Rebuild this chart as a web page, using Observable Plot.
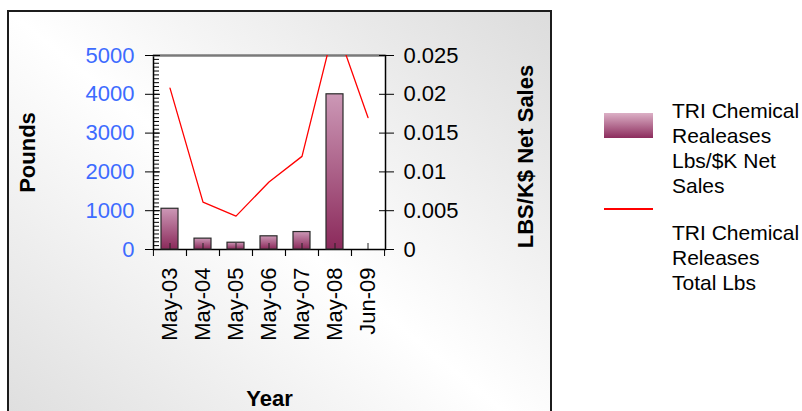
<!DOCTYPE html>
<html>
<head>
<meta charset="utf-8">
<script src="https://cdn.jsdelivr.net/npm/d3@7"></script>
<script src="https://cdn.jsdelivr.net/npm/@observablehq/plot@0.6"></script>
<style>
  html, body { margin: 0; padding: 0; background: #fff; width: 802px; height: 411px; overflow: hidden;
    font-family: "Liberation Sans", Arial, sans-serif; }
  #frame { position: absolute; left: 7px; top: 10px; width: 545px; height: 440px; box-sizing: border-box;
    border: 2px solid #1c1c1c;
    background: linear-gradient(to top right, #dcdcdc 0%, #ffffff 50%, #dcdcdc 100%); }
  #chart { position: absolute; left: 0; top: 0; }
  .lg { position: absolute; }
  .lgtext { position: absolute; font-size: 21px; line-height: 25px; color: #000; white-space: nowrap; }
</style>
</head>
<body>
<div id="frame"></div>
<svg width="0" height="0" style="position:absolute;left:0;top:0">
  <defs>
    <linearGradient id="barGrad" x1="0" y1="0" x2="0" y2="1">
      <stop offset="0%" stop-color="#cc98b6"></stop>
      <stop offset="100%" stop-color="#8b2a5b"></stop>
    </linearGradient>
  </defs>
</svg>
<div id="chart"></div>
<div id="legend"></div>
<script>
// ---- data ----
const categories = ["May-03", "May-04", "May-05", "May-06", "May-07", "May-08", "Jun-09"];
const barValues  = [1050, 280, 175, 340, 450, 4000, 0];                            // left axis (Pounds)
const lineValues = [0.0208, 0.0061, 0.0043, 0.0087, 0.0120, 0.0291, 0.0170];      // right axis (LBS/K$ Net Sales)
const leftTicks  = [0, 1000, 2000, 3000, 4000, 5000];
const rightTicks = [0, 0.005, 0.01, 0.015, 0.02, 0.025];
const minorTicks = d3.range(0, 5001, 100);
const seriesNames = [
  ["TRI Chemical", "Realeases", "Lbs/$K Net", "Sales"],
  ["TRI Chemical", "Releases", "Total Lbs"]
];
const titles = { left: "Pounds", right: "LBS/K$ Net Sales", bottom: "Year" };

// ---- chart ----
const W = 560, H = 411, mL = 153, mR = 175, mT = 55, mB = 162;
const K = leftTicks[leftTicks.length - 1] / rightTicks[rightTicks.length - 1];
const step = (W - mL - mR) / categories.length;
const rows = categories.map((c, i) => ({cat: c, bar: barValues[i], line: lineValues[i]}));
const font = "'Liberation Sans', Arial, sans-serif";

const chart = Plot.plot({
  width: W, height: H,
  marginLeft: mL, marginRight: mR, marginTop: mT, marginBottom: mB,
  style: {background: "transparent", fontFamily: font, fontSize: "22px", color: "#000", overflow: "visible"},
  x: {domain: categories, paddingInner: 0.48, paddingOuter: 0.24},
  y: {domain: [0, 5000]},
  marks: [
    Plot.frame({fill: "white", stroke: "black", strokeWidth: 1.5}),
    Plot.ruleY([leftTicks[leftTicks.length - 1]], {stroke: "#7a7a7a", strokeWidth: 2}),
    Plot.barY(rows.filter(d => d.bar > 0), {x: "cat", y: "bar", fill: "url(#barGrad)", stroke: "#2a2a2a", strokeWidth: 1.2}),
    Plot.lineY(rows, {x: "cat", y: d => d.line * K, stroke: "#ff0000", strokeWidth: 1.3, clip: true}),
    // left axis
    Plot.axisY(minorTicks, {anchor: "left", tickSize: 6, dx: 6, fill: "none", label: null}),
    Plot.axisY(leftTicks, {anchor: "left", tickSize: 15, dx: 7, fill: "none", label: null}),
    Plot.axisY(leftTicks, {anchor: "left", tickSize: 0, tickPadding: 19, fill: "#3d6bff", fontSize: 22, label: null,
      tickFormat: d => String(d)}),
    // right axis
    Plot.axisY(rightTicks.map(v => v * K), {anchor: "right", tickSize: 15, dx: -7, fill: "none", label: null}),
    Plot.axisY(rightTicks.map(v => v * K), {anchor: "right", tickSize: 0, tickPadding: 18, fontSize: 22, label: null,
      tickFormat: d => String(+(d / K).toFixed(4))}),
    // bottom axis
    Plot.axisX({anchor: "bottom", tickSize: 7, dx: -step / 2, fill: "none", label: null}),
    Plot.axisX({anchor: "bottom", tickSize: 7, dx: step / 2, fill: "none", label: null}),
    Plot.axisX({anchor: "bottom", tickSize: 6, dy: -6, fill: "none", stroke: "#222", label: null}),
    Plot.axisX({anchor: "bottom", tickSize: 0, tickPadding: 18, tickRotate: -90, fontSize: 22, label: null}),
    // titles
    Plot.text([titles.left], {frameAnchor: "left", text: d => d, rotate: -90, dx: -126, textAnchor: "middle",
      lineAnchor: "middle", fontWeight: "bold", fontSize: 22}),
    Plot.text([titles.right], {frameAnchor: "right", text: d => d, rotate: -90, dx: 140, dy: 4, textAnchor: "middle",
      lineAnchor: "middle", fontWeight: "bold", fontSize: 22}),
    Plot.text([titles.bottom], {frameAnchor: "bottom", text: d => d, dy: 149, textAnchor: "middle",
      lineAnchor: "middle", fontWeight: "bold", fontSize: 22})
  ]
});
document.getElementById("chart").appendChild(chart);

// ---- legend ----
const lg = document.getElementById("legend");
const sw = document.createElement("div");
sw.className = "lg";
Object.assign(sw.style, {left: "604px", top: "113px", width: "49px", height: "25px",
  background: "linear-gradient(to bottom, #dcb0c6, #8c2c5d)"});
lg.appendChild(sw);
const t1 = document.createElement("div");
t1.className = "lgtext";
Object.assign(t1.style, {left: "672px", top: "98px"});
t1.innerHTML = seriesNames[0].join("<br>");
lg.appendChild(t1);
const ln = document.createElement("div");
ln.className = "lg";
Object.assign(ln.style, {left: "604px", top: "208px", width: "49px", height: "2px", background: "#ff0000"});
lg.appendChild(ln);
const t2 = document.createElement("div");
t2.className = "lgtext";
Object.assign(t2.style, {left: "672px", top: "220px"});
t2.innerHTML = seriesNames[1].join("<br>");
lg.appendChild(t2);
</script>
</body>
</html>
